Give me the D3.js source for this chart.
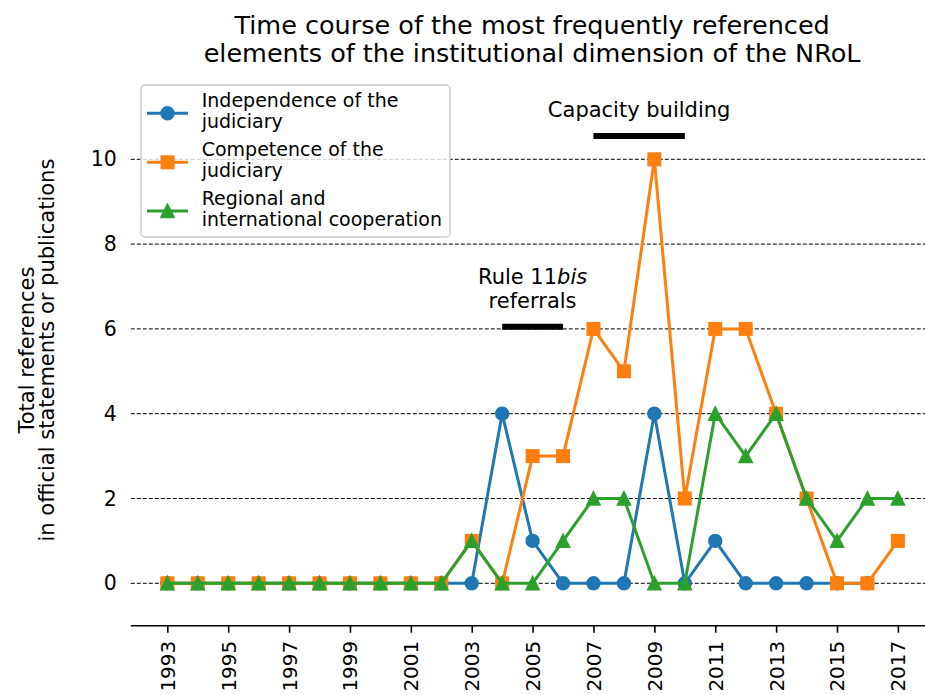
<!DOCTYPE html>
<html>
<head>
<meta charset="utf-8">
<script src="https://cdn.jsdelivr.net/npm/d3@7"></script>
<style>
  html, body { margin: 0; padding: 0; background: #fff; }
  svg { display: block; }
  text { font-family: "DejaVu Sans", sans-serif; fill: #000; }
</style>
</head>
<body>
<svg id="chart" width="925" height="695"></svg>
<script>
// ---- data ----
const years = [1993,1994,1995,1996,1997,1998,1999,2000,2001,2002,2003,2004,2005,2006,2007,2008,2009,2010,2011,2012,2013,2014,2015,2016,2017];
const independence = [0,0,0,0,0,0,0,0,0,0,0,4,1,0,0,0,4,0,1,0,0,0,0,0,null];
const competence   = [0,0,0,0,0,0,0,0,0,0,1,0,3,3,6,5,10,2,6,6,4,2,0,0,1];
const cooperation  = [0,0,0,0,0,0,0,0,0,0,1,0,0,1,2,2,0,0,4,3,4,2,1,2,2];
const seriesNames  = ["Independence of the\njudiciary", "Competence of the\njudiciary", "Regional and\ninternational cooperation"];
const seriesColors = ["#1f77b4", "#ff7f0e", "#2ca02c"];
const seriesMarkers = ["circle", "square", "triangle"];
const yTicks = [0, 2, 4, 6, 8, 10];
const xTicks = [1993,1995,1997,1999,2001,2003,2005,2007,2009,2011,2013,2015,2017];
const annotationLabels = [["Capacity building"], ["Rule 11", "bis", "referrals"]];
const annotationStart = [2007, 2004];
const annotationEnd   = [2010, 2006];
const annotationBarY  = [10.55, 6.05];
const annotationTextY = [11, 6.5];
const titleLines = ["Time course of the most frequently referenced", "elements of the institutional dimension of the NRoL"];
const yLabelLines = ["Total references", "in official statements or publications"];

// ---- layout ----
const svg = d3.select("#chart");
const plotLeft = 130.8, plotRight = 934.4, plotTop = 74.5, plotBottom = 625.7;
const x = d3.scaleLinear().domain([1991.8, 2018.2]).range([plotLeft, plotRight]);
const y = d3.scaleLinear().domain([-1, 12]).range([plotBottom, plotTop]);

// gridlines
svg.append("g").selectAll("line").data(yTicks).join("line")
  .attr("x1", plotLeft).attr("x2", plotRight)
  .attr("y1", d => y(d)).attr("y2", d => y(d))
  .attr("stroke", "#000").attr("stroke-width", 1)
  .attr("stroke-dasharray", "4,2");

// y tick labels (no spine, no tick marks)
const yAxis = d3.axisLeft(y).tickValues(yTicks).tickSize(0).tickPadding(14);
const gy = svg.append("g").attr("transform", `translate(${plotLeft},0)`).call(yAxis);
gy.select(".domain").remove();
gy.selectAll("text").attr("font-size", 20.5).attr("font-family", "DejaVu Sans");

// x axis
const xAxis = d3.axisBottom(x).tickValues(xTicks).tickFormat(d3.format("d")).tickSize(7).tickSizeOuter(0);
const gx = svg.append("g").attr("transform", `translate(0,${plotBottom})`).call(xAxis);
gx.select(".domain").attr("stroke-width", 1.6).attr("d", `M${plotLeft},0H${plotRight}`);
gx.selectAll(".tick line").attr("stroke-width", 1.6);
gx.selectAll("text")
  .attr("font-size", 20).attr("font-family", "DejaVu Sans")
  .attr("text-anchor", "end")
  .attr("transform", "translate(0,15) rotate(-90)")
  .attr("x", 0).attr("y", 0).attr("dy", "0.35em");

// marker helper
function drawMarker(g, type, cx, cy, color) {
  if (type === "circle") {
    g.append("circle").attr("cx", cx).attr("cy", cy).attr("r", 6.2)
      .attr("fill", color).attr("stroke", color).attr("stroke-width", 2);
  } else if (type === "square") {
    g.append("rect").attr("x", cx - 6).attr("y", cy - 6).attr("width", 12).attr("height", 12)
      .attr("fill", color).attr("stroke", color).attr("stroke-width", 2).attr("stroke-linejoin", "miter");
  } else {
    g.append("path").attr("d", `M${cx},${cy - 6.2}L${cx - 6.2},${cy + 6.2}L${cx + 6.2},${cy + 6.2}Z`)
      .attr("fill", color).attr("stroke", color).attr("stroke-width", 2).attr("stroke-linejoin", "miter");
  }
}

// series
const allSeries = [independence, competence, cooperation];
allSeries.forEach((vals, i) => {
  const pts = years.map((yr, j) => ({ yr, v: vals[j] }));
  const g = svg.append("g");
  const line = d3.line().defined(d => d.v !== null).x(d => x(d.yr)).y(d => y(d.v));
  g.append("path").attr("d", line(pts)).attr("fill", "none")
    .attr("stroke", seriesColors[i]).attr("stroke-width", 3).attr("stroke-linejoin", "round");
  pts.filter(d => d.v !== null).forEach(d => drawMarker(g, seriesMarkers[i], x(d.yr), y(d.v), seriesColors[i]));
});

// annotations
annotationLabels.forEach((lab, i) => {
  svg.append("line")
    .attr("x1", x(annotationStart[i])).attr("x2", x(annotationEnd[i]))
    .attr("y1", y(annotationBarY[i])).attr("y2", y(annotationBarY[i]))
    .attr("stroke", "#000").attr("stroke-width", 6);
  const cx = x((annotationStart[i] + annotationEnd[i]) / 2);
  const by = y(annotationTextY[i]);
  if (lab.length === 1) {
    svg.append("text").attr("x", cx).attr("y", by).attr("text-anchor", "middle")
      .attr("font-size", 21).text(lab[0]);
  } else {
    const t = svg.append("text").attr("x", cx).attr("y", by - 24).attr("text-anchor", "middle").attr("font-size", 21);
    t.append("tspan").text(lab[0]);
    t.append("tspan").attr("font-style", "italic").text(lab[1]);
    svg.append("text").attr("x", cx).attr("y", by).attr("text-anchor", "middle")
      .attr("font-size", 21).text(lab[2]);
  }
});

// legend
const lg = svg.append("g");
lg.append("rect").attr("x", 141).attr("y", 85).attr("width", 309).attr("height", 152)
  .attr("rx", 4).attr("ry", 4)
  .attr("fill", "#fff").attr("fill-opacity", 0.8)
  .attr("stroke", "#cccccc").attr("stroke-width", 1.5);
const legendY = [113.3, 162.3, 211];
seriesNames.forEach((name, i) => {
  const cy = legendY[i];
  lg.append("line").attr("x1", 147).attr("x2", 188).attr("y1", cy).attr("y2", cy)
    .attr("stroke", seriesColors[i]).attr("stroke-width", 3);
  drawMarker(lg, seriesMarkers[i], 167.5, cy, seriesColors[i]);
  const lines = name.split("\n");
  lines.forEach((ln, k) => {
    lg.append("text").attr("x", 201.7).attr("y", cy - 6.5 + k * 21)
      .attr("font-size", 19).text(ln);
  });
});

// title
titleLines.forEach((t, k) => {
  svg.append("text").attr("x", (plotLeft + plotRight) / 2 - 0.5).attr("y", 34.3 + k * 27.4)
    .attr("text-anchor", "middle").attr("font-size", 25.5).text(t);
});

// y label
yLabelLines.forEach((t, k) => {
  svg.append("text")
    .attr("transform", `translate(${34 + k * 20},${(plotTop + plotBottom) / 2}) rotate(-90)`)
    .attr("text-anchor", "middle").attr("font-size", 21).text(t);
});
</script>
</body>
</html>
